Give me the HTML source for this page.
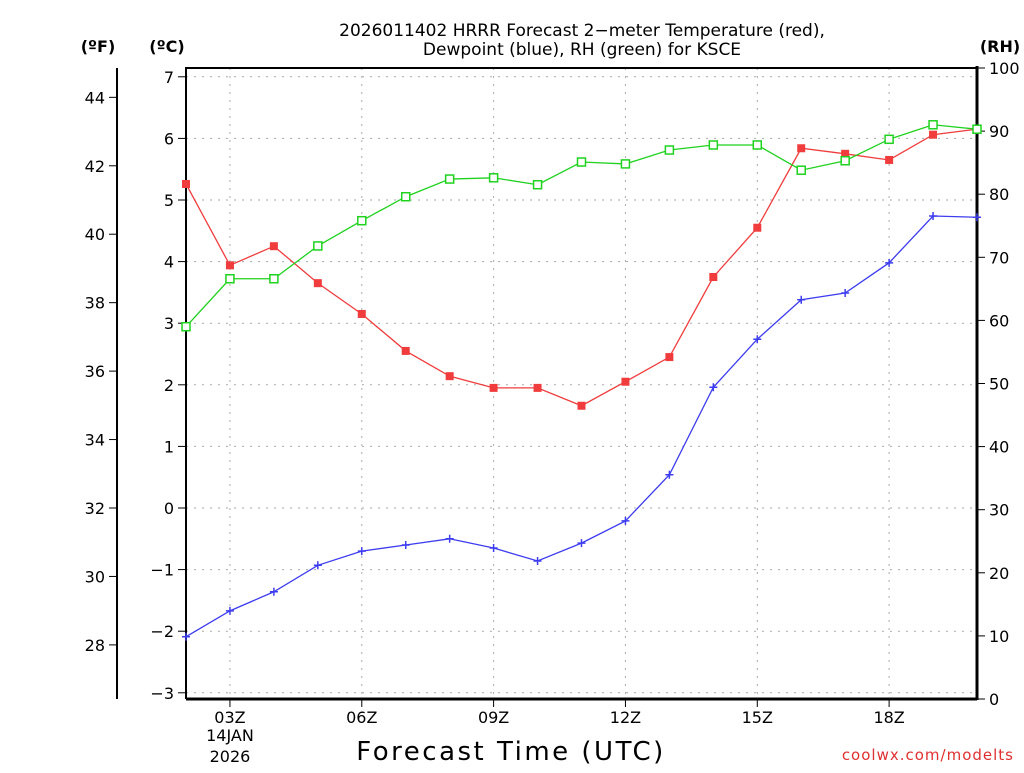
<!DOCTYPE html>
<html><head><meta charset="utf-8"><style>
body{margin:0;background:#fff;}
svg text{font-family:"DejaVu Sans","Liberation Sans",sans-serif;}
</style></head><body>
<svg id="chart" width="1024" height="768" xmlns="http://www.w3.org/2000/svg">
<rect width="1024" height="768" fill="#fff"/>
<g id="grid"></g>
<g id="axes"></g>
<g id="series"></g>
<text x="582" y="36" font-size="17" text-anchor="middle">2026011402 HRRR Forecast 2−meter Temperature (red),</text>
<text x="582" y="55" font-size="17" text-anchor="middle">Dewpoint (blue), RH (green) for KSCE</text>
<text x="98" y="52" font-size="16" font-weight="bold" text-anchor="middle">(ºF)</text>
<text x="167" y="52" font-size="16" font-weight="bold" text-anchor="middle">(ºC)</text>
<text x="1000" y="52" font-size="16" font-weight="bold" text-anchor="middle">(RH)</text>
<text x="511" y="760" font-size="26" text-anchor="middle" letter-spacing="2.5">Forecast Time (UTC)</text>
<text x="1014" y="760" font-size="15" fill="#e03030" text-anchor="end" letter-spacing="1">coolwx.com/modelts</text>
</svg>
<script>
const hours=[2,3,4,5,6,7,8,9,10,11,12,13,14,15,16,17,18,19,20];
const tempC=[5.26,3.94,4.25,3.65,3.15,2.55,2.14,1.95,1.95,1.66,2.05,2.45,3.75,4.55,5.84,5.75,5.65,6.06,6.15];
const dewC=[-2.09,-1.67,-1.36,-0.93,-0.70,-0.60,-0.50,-0.65,-0.86,-0.57,-0.21,0.54,1.96,2.74,3.38,3.49,3.98,4.74,4.72];
const rh=[59.0,66.6,66.6,71.8,75.8,79.6,82.4,82.6,81.5,85.1,84.8,87.0,87.8,87.8,83.8,85.3,88.7,91.0,90.3];
const cTicks=[-3,-2,-1,0,1,2,3,4,5,6,7];
const fTicks=[28,30,32,34,36,38,40,42,44];
const rhTicks=[0,10,20,30,40,50,60,70,80,90,100];
const xTickHours=[3,6,9,12,15,18];
const xTickLabels=["03Z","06Z","09Z","12Z","15Z","18Z"];

const X0=186,X1=977,Y0=68,Y1=699;
const xs=h=>X0+(h-2)*(X1-X0)/18;
const yc=c=>508-c*61.6;
const yf=f=>yc((f-32)*5/9);
const yr=r=>Y1-r*(Y1-Y0)/100;
const NS="http://www.w3.org/2000/svg";
function mk(parent,tag,attrs){const e=document.createElementNS(NS,tag);for(const k in attrs)e.setAttribute(k,attrs[k]);document.getElementById(parent).appendChild(e);return e;}
cTicks.forEach(c=>{const l=mk('grid','line',{x1:X0,x2:X1,y1:yc(c),y2:yc(c),stroke:'#aaa','stroke-dasharray':'2,6'});

});
xTickHours.forEach(h=>{const l=mk('grid','line',{x1:xs(h),x2:xs(h),y1:Y0,y2:Y1,stroke:'#aaa','stroke-dasharray':'2,6'});

});
const fr=mk('axes','path',{d:`M${X0} ${Y1}V${Y0}H${X1}`,fill:'none',stroke:'#000','stroke-width':2});


const bx=mk('axes','line',{x1:X0,x2:X1,y1:Y1,y2:Y1,stroke:'#000','stroke-width':3});


const ra=mk('axes','line',{x1:X1,x2:X1,y1:Y0-2,y2:Y1+1,stroke:'#000','stroke-width':3});


const fa=mk('axes','line',{x1:117,x2:117,y1:Y0,y2:Y1,stroke:'#000','stroke-width':2});


cTicks.forEach(c=>{mk('axes','line',{x1:X0-8,x2:X0,y1:yc(c),y2:yc(c),stroke:'#000','stroke-width':1});
const t=mk('axes','text',{x:X0-12,y:yc(c)+6,'font-size':16,'text-anchor':'end'});t.textContent=String(c).replace('-','−');

});
fTicks.forEach(f=>{mk('axes','line',{x1:109,x2:117,y1:yf(f),y2:yf(f),stroke:'#000','stroke-width':1});
const t=mk('axes','text',{x:105,y:yf(f)+6,'font-size':16,'text-anchor':'end'});t.textContent=f;

});
rhTicks.forEach(r=>{mk('axes','line',{x1:X1,x2:X1+8,y1:yr(r),y2:yr(r),stroke:'#000','stroke-width':1});
const t=mk('axes','text',{x:X1+12,y:yr(r)+6,'font-size':16,'text-anchor':'start'});t.textContent=r;

});
xTickHours.forEach((h,i)=>{mk('axes','line',{x1:xs(h),x2:xs(h),y1:Y1,y2:Y1+8,stroke:'#000','stroke-width':1});
const t=mk('axes','text',{x:xs(h),y:Y1+24,'font-size':16,'text-anchor':'middle'});t.textContent=xTickLabels[i];

});
[["14JAN",741],["2026",762]].forEach(([s,y])=>{const t=mk('axes','text',{x:xs(3),y:y,'font-size':16,'text-anchor':'middle'});t.textContent=s;

});
function line(vals,yf2,color,name){const p=mk('series','polyline',{points:vals.map((v,i)=>xs(hours[i])+','+yf2(v)).join(' '),fill:'none',stroke:color,'stroke-width':1.3});

}
line(tempC,yc,'#f03c3c','temperature-line');
line(dewC,yc,'#3c3cf0','dewpoint-line');
line(rh,yr,'#1ed21e','rh-line');
tempC.forEach((v,i)=>{const r=mk('series','rect',{x:xs(hours[i])-4,y:yc(v)-4,width:8,height:8,fill:'#f03c3c'});

});
dewC.forEach((v,i)=>{const x=xs(hours[i]),y=yc(v);const p=mk('series','path',{d:`M${x-4} ${y}H${x+4}M${x} ${y-4}V${y+4}`,stroke:'#3c3cf0','stroke-width':1.5});

});
rh.forEach((v,i)=>{const r=mk('series','rect',{x:xs(hours[i])-4,y:yr(v)-4,width:8,height:8,fill:'#fff',stroke:'#1ed21e','stroke-width':1.5});

});
</script>
</body></html>
